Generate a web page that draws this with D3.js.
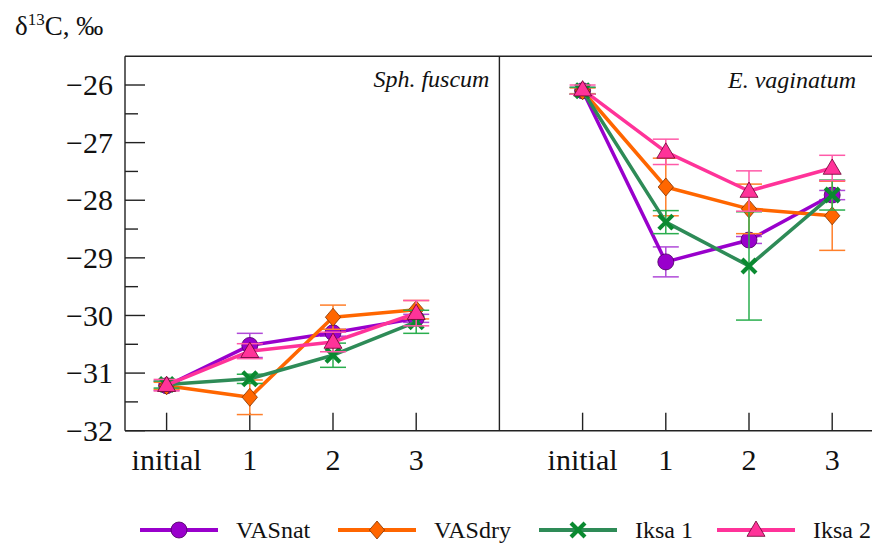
<!DOCTYPE html>
<html><head><meta charset="utf-8">
<script src="https://cdn.jsdelivr.net/npm/d3@7/dist/d3.min.js"></script>
<style>body{margin:0;background:#fff}svg{display:block}</style>
</head><body><svg id="c" width="872" height="545" style="font-family:'Liberation Serif',serif"></svg>
<script>
const categories = ["initial", "1", "2", "3"];
const panels = ["Sph. fuscum", "E. vaginatum"];
const seriesNames = ["VASnat", "VASdry", "Iksa 1", "Iksa 2"];
const yTicks = [-32, -31, -30, -29, -28, -27, -26];

// Sph. fuscum
const sphVASnat = [-31.22, -30.52, -30.30, -30.05];
const sphVASnatErr = [0.08, 0.21, 0.06, 0.07];
const sphVASdry = [-31.22, -31.42, -30.03, -29.90];
const sphVASdryErr = [0.06, 0.30, 0.21, 0.16];
const sphIksa1 = [-31.20, -31.10, -30.69, -30.11];
const sphIksa1Err = [0.06, 0.08, 0.21, 0.20];
const sphIksa2 = [-31.21, -30.62, -30.46, -29.96];
const sphIksa2Err = [0.10, 0.13, 0.17, 0.22];

// E. vaginatum
const evVASnat = [-26.10, -29.07, -28.69, -27.91];
const evVASnatErr = [0.06, 0.26, 0.06, 0.08];
const evVASdry = [-26.10, -27.77, -28.15, -28.27];
const evVASdryErr = [0.05, 0.50, 0.43, 0.60];
const evIksa1 = [-26.10, -28.38, -29.14, -27.91];
const evIksa1Err = [0.06, 0.20, 0.94, 0.26];
const evIksa2 = [-26.08, -27.16, -27.84, -27.44];
const evIksa2Err = [0.08, 0.22, 0.35, 0.22];

const data = [
  [[sphVASnat, sphVASnatErr], [sphVASdry, sphVASdryErr], [sphIksa1, sphIksa1Err], [sphIksa2, sphIksa2Err]],
  [[evVASnat, evVASnatErr], [evVASdry, evVASdryErr], [evIksa1, evIksa1Err], [evIksa2, evIksa2Err]]
];

const styles = [
  {line: "#9900cc", err: "#b04ad8", fill: "#9900cc", marker: "circle"},
  {line: "#ff6600", err: "#ff7f2a", fill: "#ff6600", marker: "diamond"},
  {line: "#2e8b57", err: "#2aae4e", fill: "#0a8a30", marker: "cross"},
  {line: "#ff3399", err: "#ff5aa8", fill: "#ff3399", marker: "triangle"}
];

const FONT = "'Liberation Serif', 'Times New Roman', serif";
const svg = d3.select("#c");
const step = 83.2;
const x = d3.scaleLinear().domain([-0.5, 8.5]).range([125, 125 + 9 * step]);
const y = d3.scaleLinear().domain([-32, -25.5]).range([430.7, 56.2]);
const pos = (p, i) => x(p * 5 + i);

function txt(sel) { return sel.style("font-family", FONT).style("fill", "#111"); }

// frame
const frame = svg.append("g").attr("stroke", "#222").attr("stroke-width", 1.4).attr("fill", "none");
frame.append("line").attr("x1", x(-0.5)).attr("x2", x(-0.5)).attr("y1", y(-25.5)).attr("y2", y(-32));
frame.append("line").attr("x1", x(-0.5)).attr("x2", x(8.5)).attr("y1", y(-25.5)).attr("y2", y(-25.5));
frame.append("line").attr("x1", x(-0.5)).attr("x2", x(8.5)).attr("y1", y(-32)).attr("y2", y(-32));
frame.append("line").attr("x1", x(4)).attr("x2", x(4)).attr("y1", y(-25.5)).attr("y2", y(-32));

// y axis
const yAxis = d3.axisLeft(y).tickValues(yTicks).tickSize(0).tickPadding(12)
  .tickFormat(d => String(d).replace("-", "\u2212"));
const ya = svg.append("g").attr("transform", `translate(${x(-0.5)},0)`).call(yAxis);
ya.attr("font-family", null).attr("font-size", null);
ya.select(".domain").remove();
txt(ya.selectAll("text")).style("font-size", "30px");
const minors = d3.range(-31.5, -25.9, 1);
svg.append("g").selectAll("line").data(yTicks).join("line")
  .attr("x1", x(-0.5)).attr("x2", x(-0.5) + 20).attr("y1", d => y(d)).attr("y2", d => y(d))
  .attr("stroke", "#222").attr("stroke-width", 1.4);
svg.append("g").selectAll("line").data(minors).join("line")
  .attr("x1", x(-0.5)).attr("x2", x(-0.5) + 13).attr("y1", d => y(d)).attr("y2", d => y(d))
  .attr("stroke", "#222").attr("stroke-width", 1.4);

// x ticks
panels.forEach((pn, p) => {
  const g = svg.append("g");
  g.selectAll("line").data(categories).join("line")
    .attr("x1", (d, i) => pos(p, i)).attr("x2", (d, i) => pos(p, i))
    .attr("y1", y(-32)).attr("y2", y(-32) - 18)
    .attr("stroke", "#222").attr("stroke-width", 1.4);
  txt(g.selectAll("text").data(categories).join("text")
    .attr("x", (d, i) => pos(p, i)).attr("y", y(-32) + 39)
    .attr("text-anchor", "middle").style("font-size", "30px").text(d => d));
});

// panel titles
txt(svg.append("text").attr("x", x(4) - 10).attr("y", 87).attr("text-anchor", "end")
  .style("font-size", "24px").style("font-style", "italic").text(panels[0]));
txt(svg.append("text").attr("x", 856).attr("y", 88).attr("text-anchor", "end")
  .style("font-size", "24px").style("font-style", "italic").text(panels[1]));

// y label
const yl = txt(svg.append("text").attr("x", 15).attr("y", 35).style("font-size", "27px"));
yl.append("tspan").text("\u03b4");
yl.append("tspan").style("font-size", "17px").attr("dy", -10).text("13");
yl.append("tspan").attr("dy", 10).text("C, \u2030");

function drawMarker(g, type, cx, cy, st) {
  if (type === "circle") {
    g.append("circle").attr("cx", cx).attr("cy", cy).attr("r", 8)
      .attr("fill", st.fill).attr("stroke", "#4a0060").attr("stroke-width", 0.8);
  } else if (type === "diamond") {
    const s = 9;
    g.append("path").attr("d", `M${cx},${cy - s}L${cx + s * 0.85},${cy}L${cx},${cy + s}L${cx - s * 0.85},${cy}Z`)
      .attr("fill", st.fill).attr("stroke", "#803300").attr("stroke-width", 0.8);
  } else if (type === "cross") {
    const s = 7;
    g.append("path").attr("d", `M${cx - s},${cy - s}L${cx + s},${cy + s}M${cx - s},${cy + s}L${cx + s},${cy - s}`)
      .attr("stroke", st.fill).attr("stroke-width", 4.2).attr("fill", "none");
  } else {
    const s = 9;
    g.append("path").attr("d", `M${cx},${cy - s}L${cx + s},${cy + s * 0.7}L${cx - s},${cy + s * 0.7}Z`)
      .attr("fill", st.fill).attr("stroke", "#6a0030").attr("stroke-width", 0.8);
  }
}

const line = d3.line();
panels.forEach((pn, p) => {
  data[p].forEach(([vals, errs], s) => {
    const st = styles[s];
    const g = svg.append("g");
    vals.forEach((v, i) => {
      const cx = pos(p, i);
      g.append("line").attr("x1", cx).attr("x2", cx).attr("y1", y(v - errs[i])).attr("y2", y(v + errs[i]))
        .attr("stroke", st.err).attr("stroke-width", 1.5);
      [v - errs[i], v + errs[i]].forEach(e => {
        g.append("line").attr("x1", cx - 13).attr("x2", cx + 13).attr("y1", y(e)).attr("y2", y(e))
          .attr("stroke", st.err).attr("stroke-width", 1.5);
      });
    });
    g.append("path").attr("d", line(vals.map((v, i) => [pos(p, i), y(v)])))
      .attr("fill", "none").attr("stroke", st.line).attr("stroke-width", 3.5).attr("stroke-linejoin", "round");
    vals.forEach((v, i) => drawMarker(g, st.marker, pos(p, i), y(v), st));
  });
});

// legend
const legX = [140, 338, 539, 717];
seriesNames.forEach((nm, s) => {
  const st = styles[s];
  const g = svg.append("g");
  const lx = legX[s], ly = 530;
  g.append("line").attr("x1", lx).attr("x2", lx + 78).attr("y1", ly).attr("y2", ly)
    .attr("stroke", st.line).attr("stroke-width", 4);
  drawMarker(g, st.marker, lx + 39, ly, st);
  txt(g.append("text").attr("x", lx + 96).attr("y", ly + 8).style("font-size", "24px").text(nm));
});
</script></body></html>
